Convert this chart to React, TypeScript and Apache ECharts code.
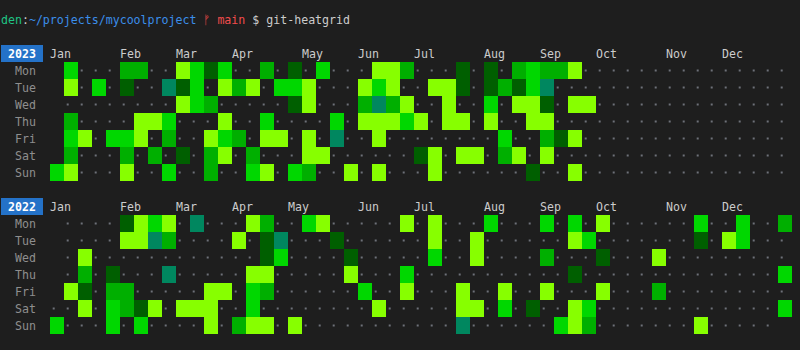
import React, { useEffect, useRef } from "react";
import * as echarts from "echarts";

// ---------- data ----------
const years = [2023, 2022];
const dayLabels = ["Mon", "Tue", "Wed", "Thu", "Fri", "Sat", "Sun"];
const monthLabels = ["Jan", "Feb", "Mar", "Apr", "May", "Jun", "Jul", "Aug", "Sep", "Oct", "Nov", "Dec"];

// one string per weekday, one character per week column
// ' ' = not in year, '.' = no activity, a/t/m/b/l = activity shades
const levelCodes = [".", "a", "t", "m", "b", "l"];
const levelColors = ["#6d7078", "#005f00", "#00875f", "#00af00", "#00d700", "#87ff00"];

const weeks2023 = [
  " b...mm..l" + "bab..m.a.b" + "...llm...a" + ".a.mbmml" + "...............",
  " l.b.a..ta" + "b.lml.bbl." + "..lbl..lla" + ".amabt" + ".................",
  " ........l" + "bm.....al." + "..mtml..l." + ".b.lla.ll" + "..............",
  " m....llb." + "..l..b...." + "b.lllbl.ll" + ".l..ll" + ".................",
  " bl.bbl.m." + ".lbm.ll.l." + "t..l......" + "..b..mal" + "...............",
  " m...m.m.a" + ".ml.m...ll" + "......al.l" + "l.ml.l" + ".................",
  "bl...l..b." + ".m..bl.bm." + ".l.l...l.." + "....a..l" + "...............",
];

const weeks2022 = [
  " ....albl." + "t...lm..bl" + ".....l.l.." + ".b...b.b.l" + "......b..b" + "..m",
  " ....lltm." + "...l.at..." + "a......l.." + "l......lb." + "......a.lb" + "...",
  " .l......." + ".....ab..." + ".a.....b.." + "l....m...a" + "...l......" + "...",
  " .m.a...t." + "....ll...." + ".l...b...." + ".......a.." + ".........." + "..b",
  " la.mm...." + ".ll.bm...." + "..b..l...l" + "..l..l...l" + "...m......" + "...",
  "..l.bmal.l" + "ll..b....." + "...l.....l" + "l.b.a..lb." + ".........." + "..b",
  "b...b.b..." + ".l.mll.l.." + ".........t" + "......blm." + "......l..." + ".. ",
];

const yearWeeks = [weeks2023, weeks2022];

// ---------- helpers ----------
const FONT = '"DejaVu Sans Mono", "Liberation Mono", monospace';
const FS = 11.6;
const WEEK_COLS = 53;
const gridTops = [62, 215];

function monthColumns(year: number): Record<number, string> {
  const jan1 = new Date(year, 0, 1);
  const offset = (jan1.getDay() + 6) % 7; // Monday = 0
  const out: Record<number, string> = {};
  monthLabels.forEach((name, m) => {
    const d = new Date(year, m, 1);
    const doy = Math.round((d.getTime() - jan1.getTime()) / 86400000);
    out[Math.floor((doy + offset) / 7)] = name;
  });
  return out;
}

function buildData(rows: string[]) {
  const data: number[][] = [];
  rows.forEach((row, r) => {
    for (let c = 0; c < WEEK_COLS; c++) {
      const ch = row[c] ?? " ";
      if (ch === " ") continue;
      const lvl = levelCodes.indexOf(ch);
      if (lvl < 0) continue;
      data.push([c, r, lvl]);
    }
  });
  return data;
}

export default function App() {
  const ref = useRef<HTMLDivElement>(null);

  useEffect(() => {
    if (!ref.current) return;
    const chart = echarts.init(ref.current, undefined, { renderer: "svg" });

    const grid = years.map((_, i) => ({
      left: 50,
      top: gridTops[i],
      width: WEEK_COLS * 14,
      height: 7 * 17,
      containLabel: false,
    }));

    const xAxis = years.map((y, i) => {
      const cols = monthColumns(y);
      return {
        type: "value" as const,
        gridIndex: i,
        min: 0,
        max: WEEK_COLS,
        interval: 1,
        position: "top" as const,
        axisLine: { show: false },
        axisTick: { show: false },
        splitLine: { show: false },
        axisLabel: {
          show: true,
          formatter: (v: number) => cols[v] ?? "",
          align: "left" as const,
          verticalAlign: "middle" as const,
          margin: 8.5,
          color: "#cccccc",
          fontFamily: FONT,
          fontSize: FS,
        },
      };
    });

    const yAxis = years.map((_, i) => ({
      type: "category" as const,
      gridIndex: i,
      data: dayLabels,
      inverse: true,
      axisLine: { show: false },
      axisTick: { show: false },
      splitLine: { show: false },
      axisLabel: {
        color: "#8e8e8e",
        fontFamily: FONT,
        fontSize: FS,
        margin: 14,
      },
    }));

    const series = years.map((_, i) => ({
      type: "custom" as const,
      xAxisIndex: i,
      yAxisIndex: i,
      data: buildData(yearWeeks[i]),
      silent: true,
      renderItem: (_params: any, api: any) => {
        const col = api.value(0);
        const row = api.value(1);
        const lvl = api.value(2);
        const start = api.coord([col, row]);
        const end = api.coord([col + 1, row]);
        const h = api.size([0, 1])[1];
        const x = start[0];
        const w = end[0] - start[0];
        if (lvl === 0) {
          return {
            type: "rect",
            shape: { x: x + 2.7, y: start[1] - 1, width: 2, height: 2 },
            style: { fill: levelColors[0] },
          };
        }
        return {
          type: "rect",
          shape: { x, y: start[1] - h / 2, width: w, height: h },
          style: { fill: levelColors[lvl] },
        };
      },
    }));

    const graphic: any[] = [
      {
        type: "text",
        x: 1,
        y: 19.5,
        silent: true,
        style: {
          text: "{g|den}{w|:}{b|~/projects/mycoolproject} {r|\u16A0 main} {w|$ git-heatgrid}",
          fontFamily: FONT,
          fontSize: FS,
          fill: "#cccccc",
          verticalAlign: "middle",
          rich: {
            g: { fill: "#1fc484", fontFamily: FONT, fontSize: FS },
            w: { fill: "#cccccc", fontFamily: FONT, fontSize: FS },
            b: { fill: "#3b8eea", fontFamily: FONT, fontSize: FS },
            r: { fill: "#f14c4c", fontFamily: FONT, fontSize: FS },
          },
        },
      },
    ];
    years.forEach((y, i) => {
      const top = gridTops[i] - 17;
      graphic.push({
        type: "rect",
        silent: true,
        shape: { x: 1, y: top, width: 42, height: 17 },
        style: { fill: "#2472c8" },
      });
      graphic.push({
        type: "text",
        silent: true,
        x: 22,
        y: top + 8.5,
        style: {
          text: String(y),
          fill: "#ffffff",
          fontFamily: FONT,
          fontSize: FS,
          fontWeight: "bold",
          align: "center",
          verticalAlign: "middle",
        },
      });
    });

    chart.setOption({
      animation: false,
      backgroundColor: "#1e1e1e",
      grid,
      xAxis,
      yAxis,
      series,
      graphic,
    });

    return () => chart.dispose();
  }, []);

  return (
    <div
      ref={ref}
      style={{ position: "fixed", left: 0, top: 0, width: 800, height: 350, background: "#1e1e1e" }}
    />
  );
}
